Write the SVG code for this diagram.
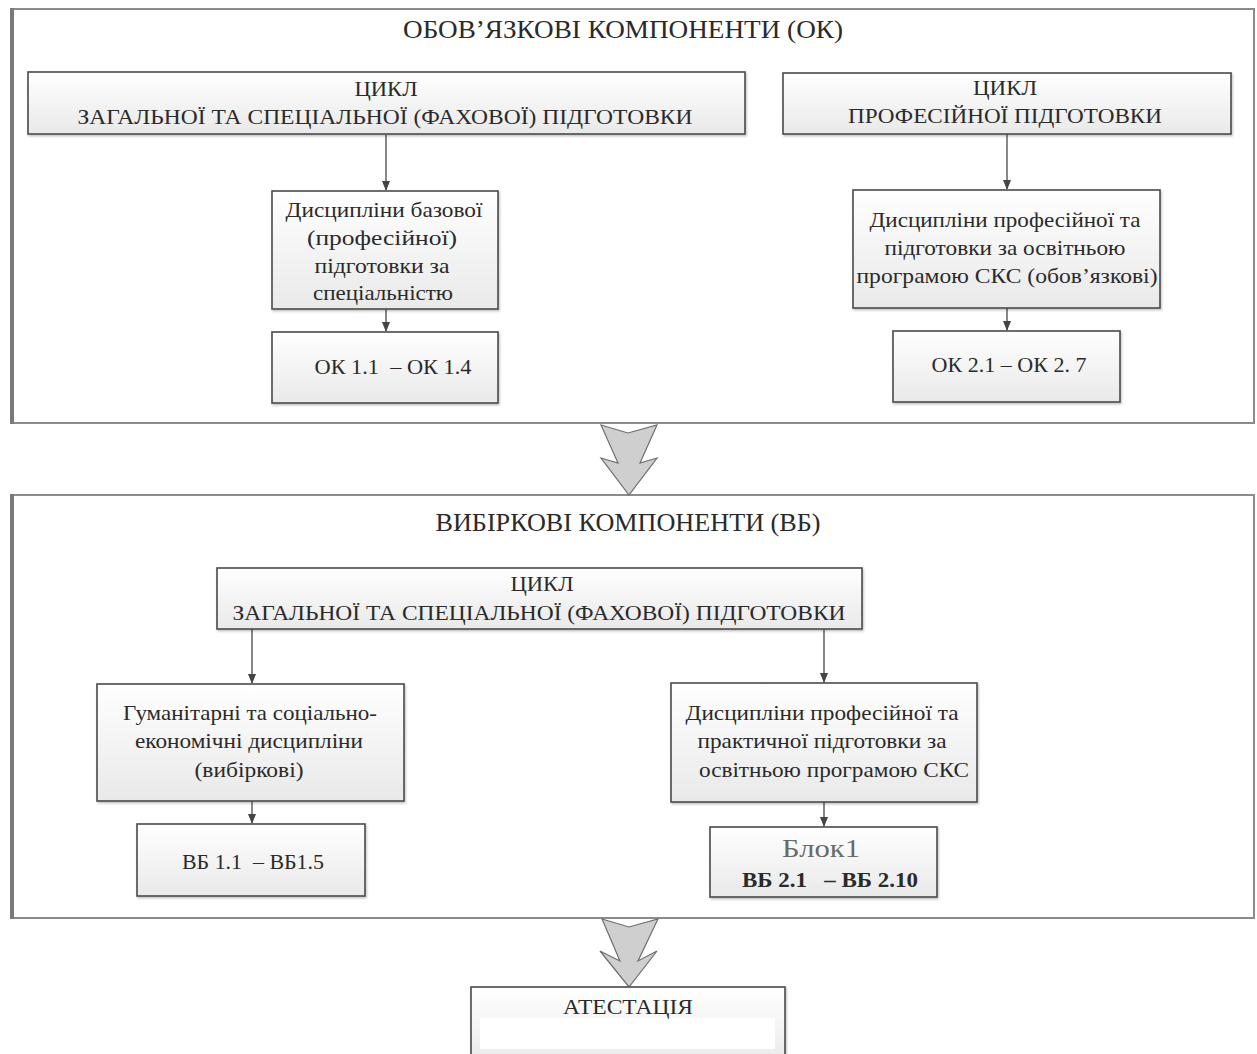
<svg xmlns="http://www.w3.org/2000/svg" width="1257" height="1054" viewBox="0 0 1257 1054">
<style>
  text { font-family: "Liberation Serif", "Times New Roman", serif; fill: #2a2a2a; text-anchor: middle; white-space: pre; }
  .title { font-size: 25px; }
  .cap { font-size: 22px; }
  .t { font-size: 22px; }
  .box { fill: url(#g); stroke: #4a4a4a; stroke-width: 1.6; filter: url(#sh); }
  .cont { fill: #fff; stroke: #8c8c8c; stroke-width: 2; }
  .contl { stroke: #7a7a7a; stroke-width: 4; }
  .con { stroke: #555; stroke-width: 1.4; fill: none; marker-end: url(#ah); }
  .big { fill: #cfcfcf; stroke: #6e6e6e; stroke-width: 1.2; stroke-linejoin: miter; }
</style>
<defs>
  <linearGradient id="g" x1="0" y1="0" x2="0" y2="1">
    <stop offset="0" stop-color="#ffffff"/>
    <stop offset="1" stop-color="#e9e9e9"/>
  </linearGradient>
  <filter id="sh" x="-5%" y="-5%" width="110%" height="120%">
    <feDropShadow dx="1" dy="1.5" stdDeviation="1" flood-color="#000" flood-opacity="0.25"/>
  </filter>
  <marker id="ah" markerWidth="10" markerHeight="8" refX="9" refY="4" orient="auto" markerUnits="userSpaceOnUse">
    <path d="M0,0 L10,4 L0,8 Z" fill="#444"/>
  </marker>
</defs>
<rect width="1257" height="1054" fill="#fff"/>

<g id="container-ok">
  <rect class="cont" x="11" y="9" width="1243" height="414"/>
  <line class="contl" x1="12" y1="8" x2="12" y2="424"/>
  <text class="title" x="623" y="38" textLength="440" lengthAdjust="spacingAndGlyphs">ОБОВ’ЯЗКОВІ КОМПОНЕНТИ (ОК)</text>
</g>

<g id="container-vb">
  <rect class="cont" x="11" y="495" width="1243" height="423"/>
  <line class="contl" x1="12" y1="494" x2="12" y2="919"/>
  <text class="title" x="628" y="531" textLength="385" lengthAdjust="spacingAndGlyphs">ВИБІРКОВІ КОМПОНЕНТИ (ВБ)</text>
</g>

<g id="connectors">
  <line class="con" x1="386" y1="135" x2="386" y2="190"/>
  <line class="con" x1="386" y1="309" x2="386" y2="331"/>
  <line class="con" x1="1007" y1="134" x2="1007" y2="189"/>
  <line class="con" x1="1007" y1="308" x2="1007" y2="330"/>
  <line class="con" x1="252" y1="629" x2="252" y2="683"/>
  <line class="con" x1="252" y1="801" x2="252" y2="823"/>
  <line class="con" x1="824" y1="629" x2="824" y2="682"/>
  <line class="con" x1="824" y1="802" x2="824" y2="826"/>
  <polygon class="big" points="601,425 628,433 657,425 640,463 657,458 629,495 601,458 618,463"/>
  <polygon class="big" points="602,919 629,927 658,919 638,961 657,951 629,987 600,951 620,961"/>
</g>

<g id="cycle-general-ok">
  <rect class="box" x="28" y="72" width="717" height="62"/>
  <text class="cap" x="386" y="96" textLength="63" lengthAdjust="spacingAndGlyphs">ЦИКЛ</text>
  <text class="cap" x="385" y="124" textLength="615" lengthAdjust="spacingAndGlyphs">ЗАГАЛЬНОЇ ТА СПЕЦІАЛЬНОЇ (ФАХОВОЇ) ПІДГОТОВКИ</text>
</g>

<g id="cycle-prof-ok">
  <rect class="box" x="783" y="73" width="448" height="61"/>
  <text class="cap" x="1005" y="95" textLength="64" lengthAdjust="spacingAndGlyphs">ЦИКЛ</text>
  <text class="cap" x="1005" y="123" textLength="314" lengthAdjust="spacingAndGlyphs">ПРОФЕСІЙНОЇ ПІДГОТОВКИ</text>
</g>

<g id="disc-base">
  <rect class="box" x="272" y="191" width="226" height="118"/>
  <text class="t" x="384" y="217" textLength="197" lengthAdjust="spacingAndGlyphs">Дисципліни базової</text>
  <text class="t" x="382" y="245" textLength="150" lengthAdjust="spacingAndGlyphs">(професійної)</text>
  <text class="t" x="382" y="273" textLength="135" lengthAdjust="spacingAndGlyphs">підготовки за</text>
  <text class="t" x="383" y="300" textLength="140" lengthAdjust="spacingAndGlyphs">спеціальністю</text>
</g>

<g id="ok1">
  <rect class="box" x="272" y="332" width="226" height="71"/>
  <text class="t" x="393" y="374" textLength="157" lengthAdjust="spacingAndGlyphs">ОК 1.1  – ОК 1.4</text>
</g>

<g id="disc-prof-ok">
  <rect class="box" x="853" y="190" width="307" height="118"/>
  <text class="t" x="1005" y="227" textLength="271" lengthAdjust="spacingAndGlyphs">Дисципліни професійної та</text>
  <text class="t" x="1005" y="255" textLength="241" lengthAdjust="spacingAndGlyphs">підготовки за освітньою</text>
  <text class="t" x="1007" y="283" textLength="301" lengthAdjust="spacingAndGlyphs">програмою СКС (обов’язкові)</text>
</g>

<g id="ok2">
  <rect class="box" x="893" y="331" width="227" height="71"/>
  <text class="t" x="1009" y="372" textLength="155" lengthAdjust="spacingAndGlyphs">ОК 2.1 – ОК 2. 7</text>
</g>

<g id="cycle-general-vb">
  <rect class="box" x="217" y="568" width="645" height="61"/>
  <text class="cap" x="542" y="591" textLength="63" lengthAdjust="spacingAndGlyphs">ЦИКЛ</text>
  <text class="cap" x="539" y="620" textLength="613" lengthAdjust="spacingAndGlyphs">ЗАГАЛЬНОЇ ТА СПЕЦІАЛЬНОЇ (ФАХОВОЇ) ПІДГОТОВКИ</text>
</g>

<g id="humanit">
  <rect class="box" x="97" y="684" width="307" height="117"/>
  <text class="t" x="250" y="720" textLength="254" lengthAdjust="spacingAndGlyphs">Гуманітарні та соціально-</text>
  <text class="t" x="249" y="748" textLength="228" lengthAdjust="spacingAndGlyphs">економічні дисципліни</text>
  <text class="t" x="249" y="777" textLength="109" lengthAdjust="spacingAndGlyphs">(вибіркові)</text>
</g>

<g id="vb1">
  <rect class="box" x="137" y="824" width="228" height="72"/>
  <text class="t" x="253" y="869" textLength="142" lengthAdjust="spacingAndGlyphs">ВБ 1.1  – ВБ1.5</text>
</g>

<g id="disc-prof-vb">
  <rect class="box" x="671" y="683" width="306" height="119"/>
  <text class="t" x="822" y="720" textLength="273" lengthAdjust="spacingAndGlyphs">Дисципліни професійної та</text>
  <text class="t" x="822" y="748" textLength="249" lengthAdjust="spacingAndGlyphs">практичної підготовки за</text>
  <text class="t" x="834" y="777" textLength="270" lengthAdjust="spacingAndGlyphs">освітньою програмою СКС</text>
</g>

<g id="vb2">
  <rect class="box" x="710" y="827" width="227" height="70"/>
  <text x="821" y="857" style="font-size:26px; fill:#6a6a6a" textLength="78" lengthAdjust="spacingAndGlyphs">Блок1</text>
  <text class="t" x="830" y="887" style="font-weight:bold; font-size:20px" textLength="176" lengthAdjust="spacingAndGlyphs">ВБ 2.1   – ВБ 2.10</text>
</g>

<g id="atest">
  <rect class="box" x="471" y="987" width="314" height="80"/>
  <rect x="480" y="1018" width="295" height="31" fill="#ffffff"/>
  <text class="t" x="628" y="1014" textLength="130" lengthAdjust="spacingAndGlyphs">АТЕСТАЦІЯ</text>
</g>
</svg>
